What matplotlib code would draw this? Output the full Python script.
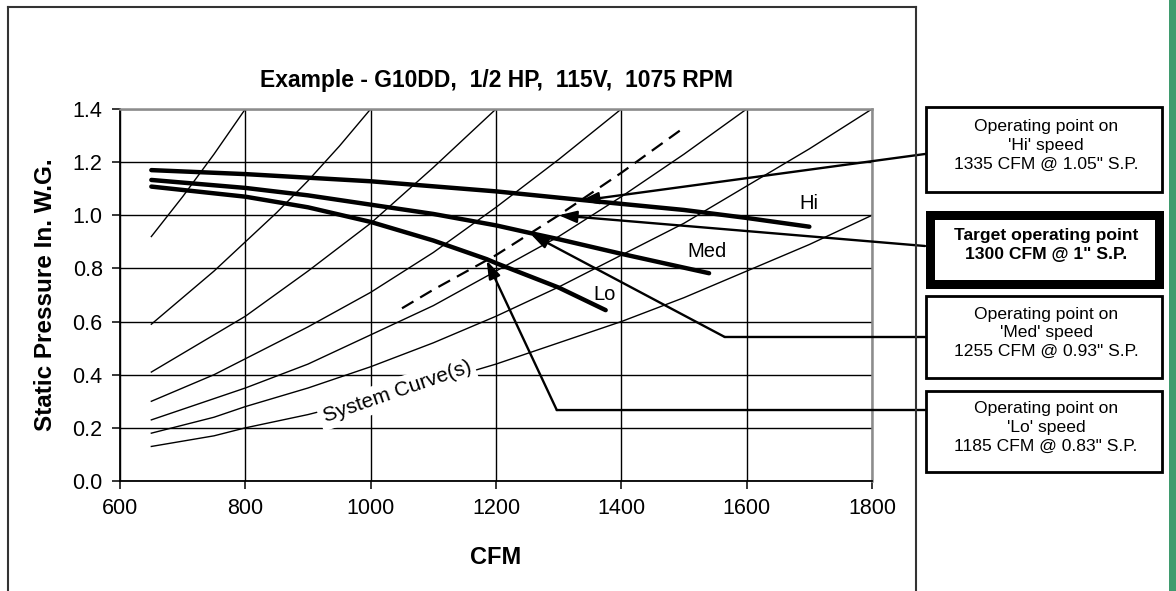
import matplotlib
matplotlib.use('Agg')
import matplotlib.pyplot as plt
from matplotlib.patches import Rectangle
from matplotlib.lines import Line2D

plt.rcParams['font.family'] = ['Liberation Sans', 'DejaVu Sans']

# ---------------- data ----------------
title = "Example - G10DD,  1/2 HP,  115V,  1075 RPM"
x_label = "CFM"
y_label = "Static Pressure In. W.G."
x_ticks = [600, 800, 1000, 1200, 1400, 1600, 1800]
y_ticks = [0.0, 0.2, 0.4, 0.6, 0.8, 1.0, 1.2, 1.4]

# fan curves
hi_cfm = [650, 800, 1000, 1200, 1335, 1400, 1500, 1600, 1700]
hi_sp = [1.17, 1.155, 1.128, 1.09, 1.058, 1.043, 1.02, 0.99, 0.957]
med_cfm = [650, 800, 900, 1000, 1100, 1200, 1255, 1300, 1400, 1540]
med_sp = [1.133, 1.103, 1.075, 1.04, 1.005, 0.962, 0.933, 0.91, 0.855, 0.782]
lo_cfm = [650, 800, 900, 1000, 1100, 1185, 1200, 1300, 1375]
lo_sp = [1.108, 1.07, 1.03, 0.975, 0.905, 0.835, 0.82, 0.728, 0.643]

# system curves (thin)
sys_cfm = [
    [650, 700, 750, 800],
    [650, 700, 750, 800, 850, 900, 950, 1000],
    [650, 700, 750, 800, 900, 1000, 1100, 1200],
    [650, 700, 750, 800, 900, 1000, 1100, 1200, 1300, 1400],
    [650, 700, 750, 800, 900, 1000, 1100, 1200, 1300, 1400, 1500, 1600],
    [650, 700, 750, 800, 900, 1000, 1100, 1200, 1300, 1400, 1500, 1600, 1700, 1800],
    [650, 700, 750, 800, 900, 1000, 1100, 1200, 1300, 1400, 1500, 1600, 1700, 1800],
]
sys_sp = [
    [0.92, 1.07, 1.23, 1.40],
    [0.59, 0.69, 0.79, 0.90, 1.01, 1.13, 1.26, 1.40],
    [0.41, 0.48, 0.55, 0.62, 0.79, 0.97, 1.18, 1.40],
    [0.30, 0.35, 0.40, 0.46, 0.58, 0.71, 0.86, 1.03, 1.21, 1.40],
    [0.23, 0.27, 0.31, 0.35, 0.44, 0.55, 0.66, 0.79, 0.92, 1.07, 1.23, 1.40],
    [0.18, 0.21, 0.24, 0.28, 0.35, 0.43, 0.52, 0.62, 0.73, 0.85, 0.97, 1.11, 1.25, 1.40],
    [0.13, 0.15, 0.17, 0.20, 0.25, 0.31, 0.37, 0.44, 0.52, 0.60, 0.69, 0.79, 0.89, 1.00],
]
# target system curve (dashed)
target_cfm = [1050, 1100, 1200, 1300, 1400, 1500]
target_sp = [0.65, 0.72, 0.85, 1.00, 1.16, 1.33]

# operating points
op_hi = (1335, 1.055)
op_target = (1300, 1.00)
op_med = (1255, 0.93)
op_lo = (1185, 0.83)

box_texts = [
    "Operating point on\n'Hi' speed\n1335 CFM @ 1.05\" S.P.",
    "Target operating point\n1300 CFM @ 1\" S.P.",
    "Operating point on\n'Med' speed\n1255 CFM @ 0.93\" S.P.",
    "Operating point on\n'Lo' speed\n1185 CFM @ 0.83\" S.P.",
]

# ---------------- figure ----------------
W, H = 1176, 591
fig = plt.figure(figsize=(W / 100, H / 100), dpi=100)
fig.patch.set_facecolor('white')


def fx(px):
    return px / W


def fy(py):
    return (H - py) / H


ax = fig.add_axes([fx(120), fy(481), 752 / W, 372 / H])
ax.set_xlim(600, 1800)
ax.set_ylim(0, 1.4)
ax.set_xticks(x_ticks)
ax.set_yticks(y_ticks)
ax.set_yticklabels([f"{v:.1f}" for v in y_ticks])
ax.tick_params(direction='out', length=5.5, width=1.1, colors='black',
               labelsize=15.5, pad=7)
ax.set_axisbelow(True)
ax.grid(True, color='black', lw=1.0)
for s in ['left', 'bottom']:
    ax.spines[s].set_color('black')
    ax.spines[s].set_linewidth(1.3)
for s in ['top', 'right']:
    ax.spines[s].set_color('#8c8c8c')
    ax.spines[s].set_linewidth(1.8)

ax.set_title(title, fontsize=16.5, fontweight='bold', pad=15.5)
ax.set_xlabel(x_label, fontsize=17, fontweight='bold')
ax.xaxis.set_label_coords(0.5, -(557 - 481) / 372)
ax.xaxis.label.set_va('center')
ax.set_ylabel(y_label, fontsize=17.5, fontweight='bold')
ax.yaxis.set_label_coords((46 - 120) / 752, 0.5)
ax.yaxis.label.set_va('center')

# system curves
for c, p in zip(sys_cfm, sys_sp):
    ax.plot(c, p, color='black', lw=1.0, zorder=2)
ax.plot(target_cfm, target_sp, color='black', lw=1.6, ls=(0, (6, 3.5)), zorder=2)

# fan curves
for c, p in [(hi_cfm, hi_sp), (med_cfm, med_sp), (lo_cfm, lo_sp)]:
    ax.plot(c, p, color='black', lw=3.2, solid_capstyle='round', zorder=4)

ax.text(1700, 1.046, 'Hi', fontsize=14.5, ha='center', va='center')
ax.text(1537, 0.862, 'Med', fontsize=14.5, ha='center', va='center')
ax.text(1374, 0.70, 'Lo', fontsize=14.5, ha='center', va='center')

ax.text(1042, 0.335, 'System Curve(s)', fontsize=15, rotation=19,
        rotation_mode='anchor', ha='center', va='center', zorder=3,
        bbox=dict(boxstyle='square,pad=0.2', fc='white', ec='none'))

# ---------------- annotation lines ----------------
arrow = dict(arrowstyle='-|>,head_length=0.9,head_width=0.3', lw=1.7,
             color='black', shrinkA=0, shrinkB=0, mutation_scale=12)
plain = dict(arrowstyle='-', lw=1.7, color='black', shrinkA=0, shrinkB=0)

box_left = 925
ax.annotate('', xy=op_hi, xycoords='data', xytext=(box_left, H - 154),
            textcoords='figure pixels', arrowprops=arrow, zorder=5)
ax.annotate('', xy=op_target, xycoords='data', xytext=(box_left, H - 246),
            textcoords='figure pixels', arrowprops=arrow, zorder=5)
med_elbow = (1565, 0.542)
lo_elbow = (1297, 0.267)
ax.annotate('', xy=med_elbow, xycoords='data', xytext=(box_left, H - 337),
            textcoords='figure pixels', arrowprops=plain, zorder=5)
ax.annotate('', xy=op_med, xycoords='data', xytext=med_elbow,
            textcoords='data', arrowprops=arrow, zorder=5)
ax.annotate('', xy=lo_elbow, xycoords='data', xytext=(box_left, H - 410),
            textcoords='figure pixels', arrowprops=plain, zorder=5)
ax.annotate('', xy=op_lo, xycoords='data', xytext=lo_elbow,
            textcoords='data', arrowprops=arrow, zorder=5)

# ---------------- outer frame ----------------
frame_kw = dict(color='#333333', lw=1.5, transform=fig.transFigure)
fig.add_artist(Line2D([fx(7.5), fx(7.5)], [fy(7), 0], **frame_kw))
fig.add_artist(Line2D([fx(7.5), fx(916)], [fy(7), fy(7)], **frame_kw))
fig.add_artist(Line2D([fx(916), fx(916)], [fy(7), 0], **frame_kw))

# ---------------- boxes ----------------
boxes = [  # (top, bottom, linewidth px)
    (107, 192, 2.8),
    (214.5, 283.5, 9.0),
    (296, 378, 2.8),
    (391, 472, 2.8),
]
for i, ((top, bot, lwpx), txt) in enumerate(zip(boxes, box_texts)):
    inset = lwpx / 2 if i == 1 else 1.4
    x0 = 925 + inset
    x1 = 1163 - inset
    fig.add_artist(Rectangle((fx(x0), fy(bot)), fx(x1) - fx(x0), fy(top) - fy(bot),
                             transform=fig.transFigure, fill=False,
                             ec='black', lw=lwpx * 0.72))
    cy = (top + bot) / 2 - 4
    fig.text(fx(1046), fy(cy), txt, ha='center', va='center', multialignment='center',
             fontsize=12.6, linespacing=1.3,
             fontweight='bold' if i == 1 else 'normal')

# green right edge
fig.add_artist(Rectangle((fx(1169), 0), fx(1176) - fx(1169), 1,
                         transform=fig.transFigure, fc='#3f9b6e', ec='none'))

fig.savefig('out.png', dpi=100)
